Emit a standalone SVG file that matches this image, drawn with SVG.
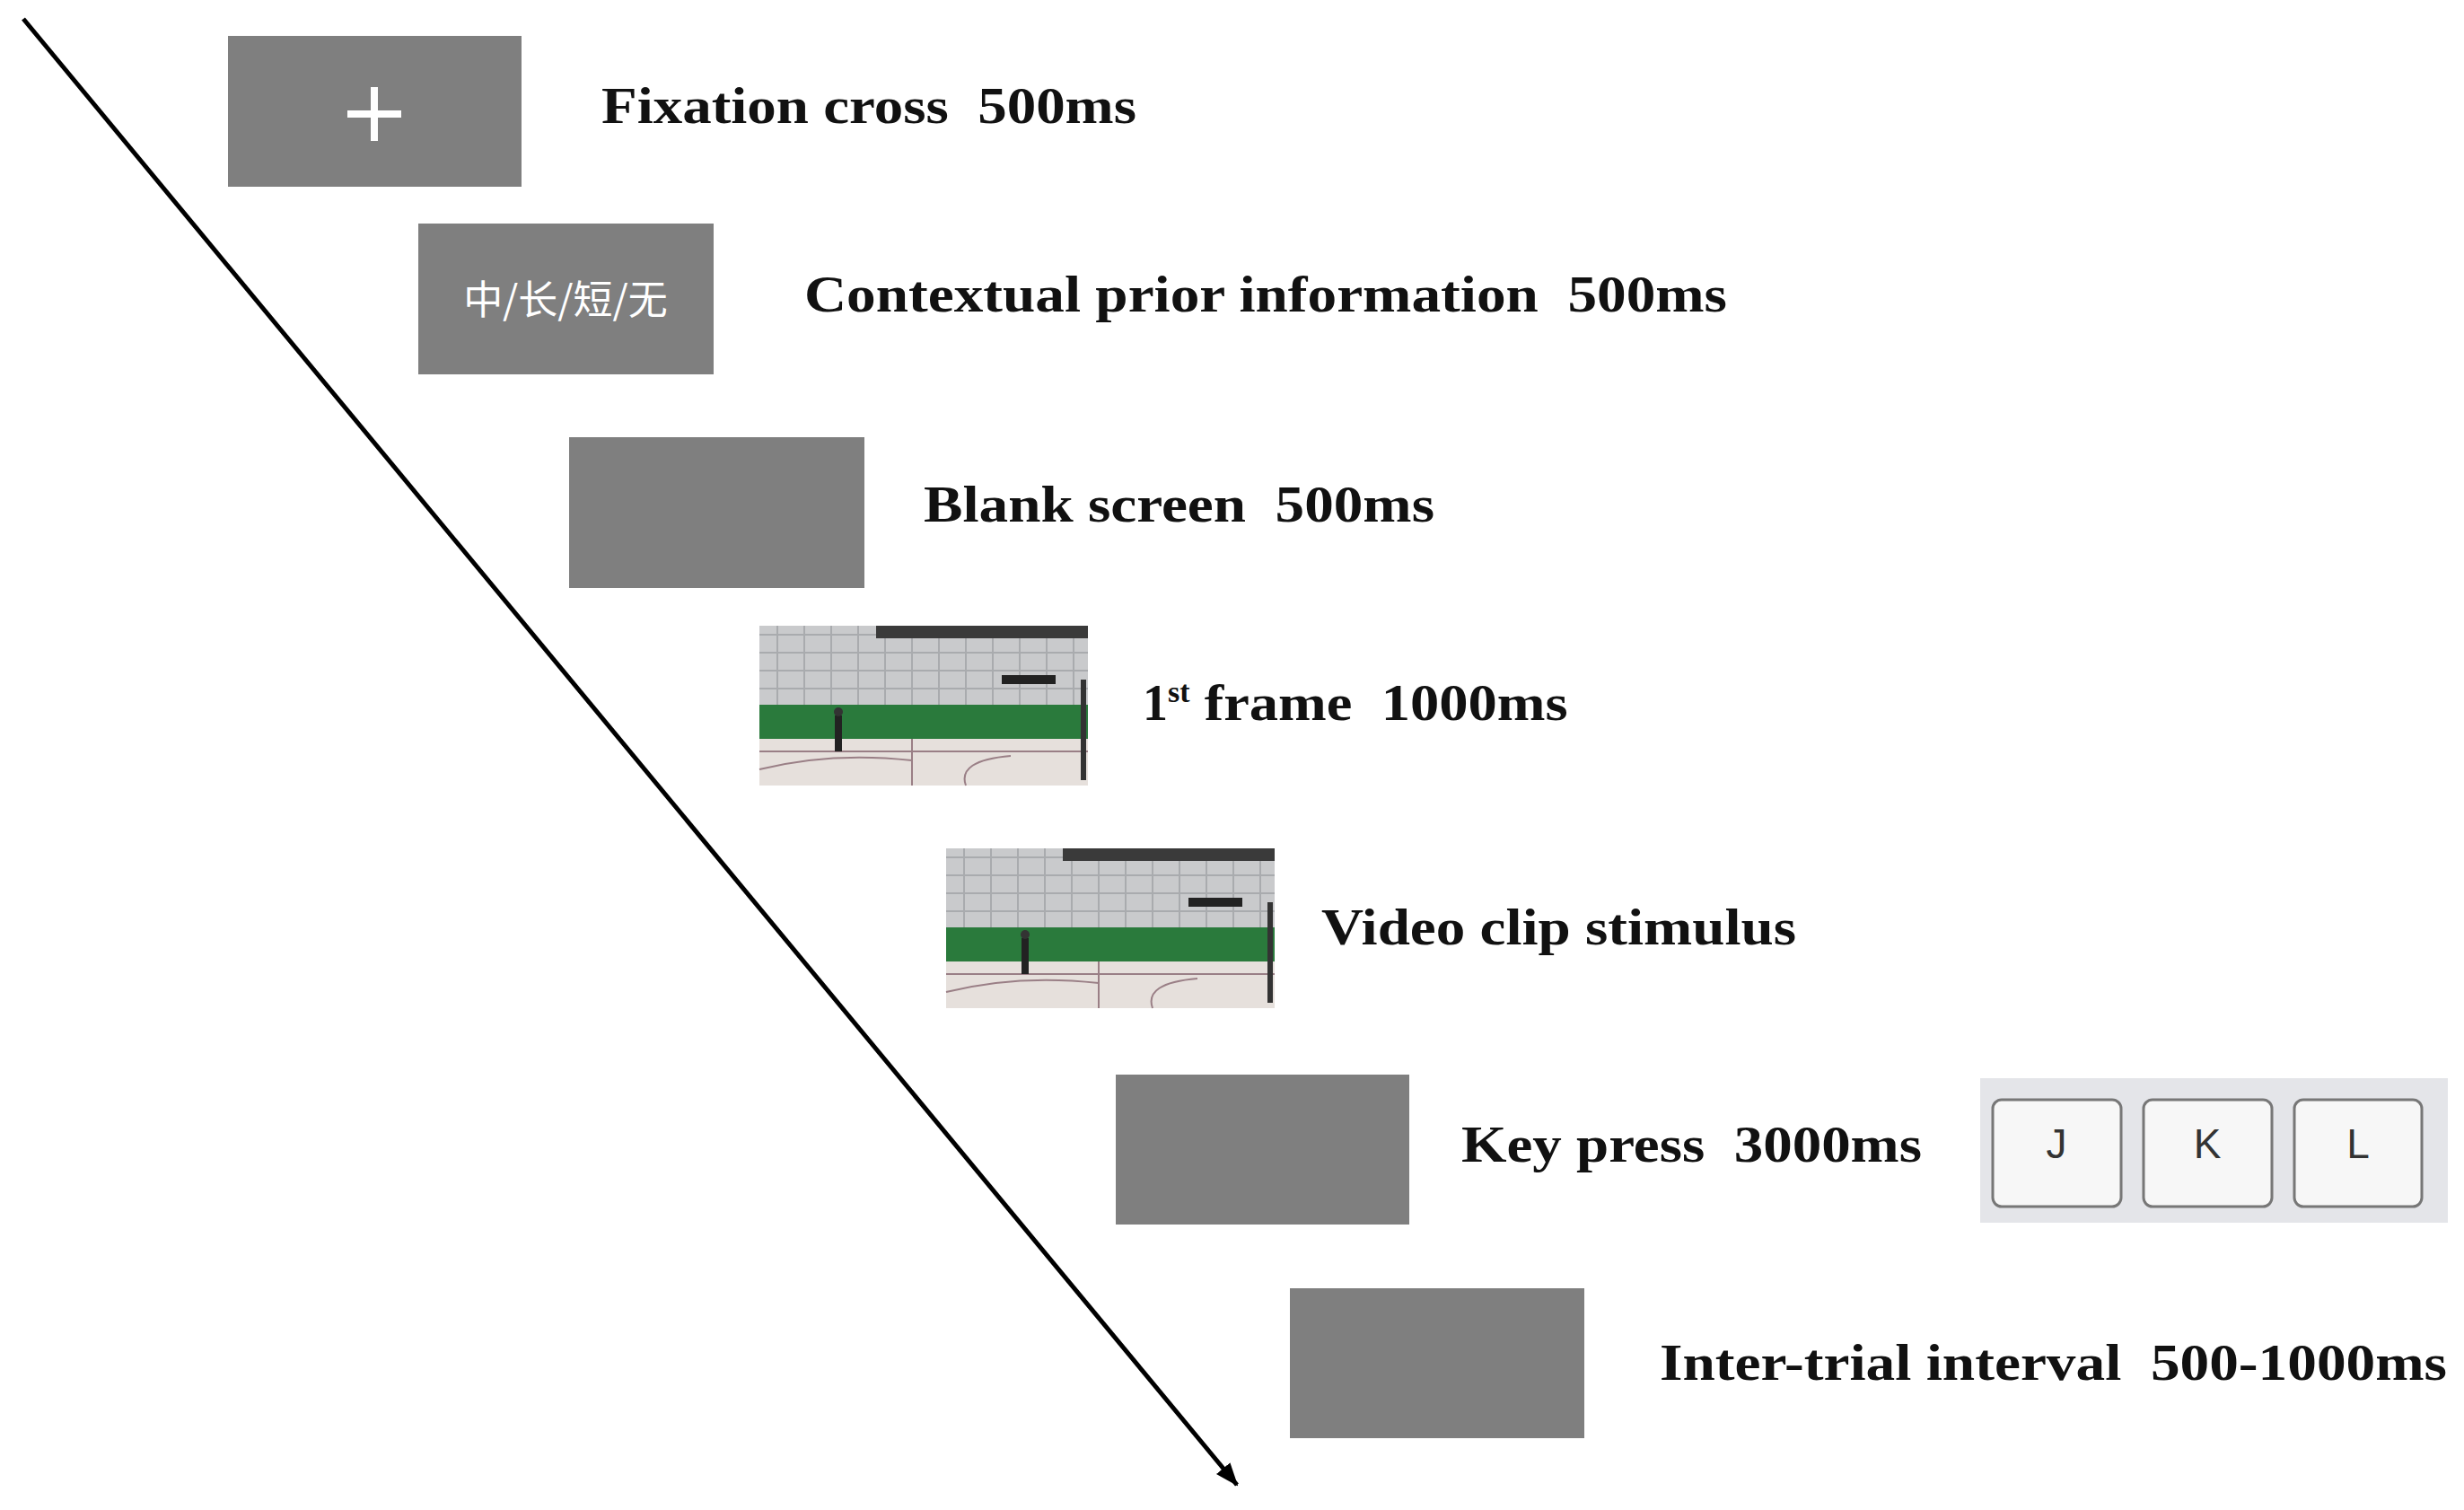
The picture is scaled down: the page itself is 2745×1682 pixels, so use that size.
<svg xmlns="http://www.w3.org/2000/svg" width="2745" height="1682" viewBox="0 0 2745 1682">
<style>
.scr{fill:#7f7f7f}
.lbl{font-family:"Liberation Serif","Times New Roman",serif;font-weight:bold;font-size:56px;fill:#111;white-space:pre}
.key{fill:#f7f7f7;stroke:#777;stroke-width:3}
.kt{font-family:"Liberation Sans",Arial,sans-serif;font-size:46px;fill:#333;text-anchor:middle}
</style>
<defs>
<marker id="ah" markerWidth="26" markerHeight="20" refX="24" refY="10" orient="auto" markerUnits="userSpaceOnUse" viewBox="0 0 26 20">
<path d="M0,0 L26,10 L0,20 z" fill="#000"/>
</marker>
<g id="photo">
<rect x="0" y="0" width="366" height="178" fill="#c9cacc"/>
<path d="M0,10 H366 M0,30 H366 M0,50 H366 M0,70 H366 M20,0 V88 M50,0 V88 M80,0 V88 M110,0 V88 M140,0 V88 M170,0 V88 M200,0 V88 M230,0 V88 M260,0 V88 M290,0 V88 M320,0 V88 M350,0 V88" stroke="#a9abae" stroke-width="2"/>
<rect x="130" y="0" width="236" height="14" fill="#3a3a3a"/>
<rect x="270" y="55" width="60" height="10" fill="#222"/>
<rect x="0" y="88" width="366" height="38" fill="#2a7a3c"/>
<rect x="0" y="126" width="366" height="52" fill="#e6e0dc"/>
<path d="M0,160 Q80,140 170,150 M170,126 V178 M230,178 Q220,150 280,145 M0,140 H366" stroke="#9a7f86" stroke-width="2" fill="none"/>
<rect x="84" y="100" width="8" height="40" fill="#222"/>
<circle cx="88" cy="96" r="5" fill="#333"/>
<rect x="358" y="60" width="6" height="112" fill="#333"/>
</g>
</defs>
<g id="connectors">
<line x1="26" y1="21" x2="1378" y2="1654" stroke="#000" stroke-width="5" marker-end="url(#ah)"/>
</g>
<g id="fixation">
<rect class="scr" x="254" y="40" width="327" height="168"/>
<path d="M387,127 H447 M417,97 V157" stroke="#fff" stroke-width="8"/>
<text class="lbl" x="670" y="137" textLength="596" lengthAdjust="spacingAndGlyphs">Fixation cross&#160;&#160;500ms</text>
</g>
<g id="prior">
<rect class="scr" x="466" y="249" width="329" height="168"/>
<text x="630" y="350" text-anchor="middle" font-family="Noto Sans CJK SC, sans-serif" font-size="44" fill="#fff">中/长/短/无</text>
<text class="lbl" x="896" y="347" textLength="1028" lengthAdjust="spacingAndGlyphs">Contextual prior information&#160;&#160;500ms</text>
</g>
<g id="blank">
<rect class="scr" x="634" y="487" width="329" height="168"/>
<text class="lbl" x="1029" y="581" textLength="569" lengthAdjust="spacingAndGlyphs">Blank screen&#160;&#160;500ms</text>
</g>
<g id="frame1">
<use href="#photo" x="846" y="697"/>
<text class="lbl" x="1273" y="802">1<tspan font-size="34" dy="-20">st</tspan><tspan dy="20" textLength="421" lengthAdjust="spacingAndGlyphs"> frame&#160;&#160;1000ms</tspan></text>
</g>
<g id="video">
<use href="#photo" x="1054" y="945"/>
<text class="lbl" x="1472" y="1052" textLength="529" lengthAdjust="spacingAndGlyphs">Video clip stimulus</text>
</g>
<g id="keypress">
<rect class="scr" x="1243" y="1197" width="327" height="167"/>
<text class="lbl" x="1628" y="1294" textLength="513" lengthAdjust="spacingAndGlyphs">Key press&#160;&#160;3000ms</text>
<rect x="2206" y="1201" width="521" height="161" fill="#e4e5e9"/>
<rect class="key" x="2220" y="1225" width="143" height="119" rx="10"/>
<rect class="key" x="2388" y="1225" width="143" height="119" rx="10"/>
<rect class="key" x="2556" y="1225" width="142" height="119" rx="10"/>
<text class="kt" x="2291" y="1290">J</text>
<text class="kt" x="2459" y="1290">K</text>
<text class="kt" x="2627" y="1290">L</text>
</g>
<g id="iti">
<rect class="scr" x="1437" y="1435" width="328" height="167"/>
<text class="lbl" x="1849" y="1537" textLength="877" lengthAdjust="spacingAndGlyphs">Inter-trial interval&#160;&#160;500-1000ms</text>
</g>
</svg>
